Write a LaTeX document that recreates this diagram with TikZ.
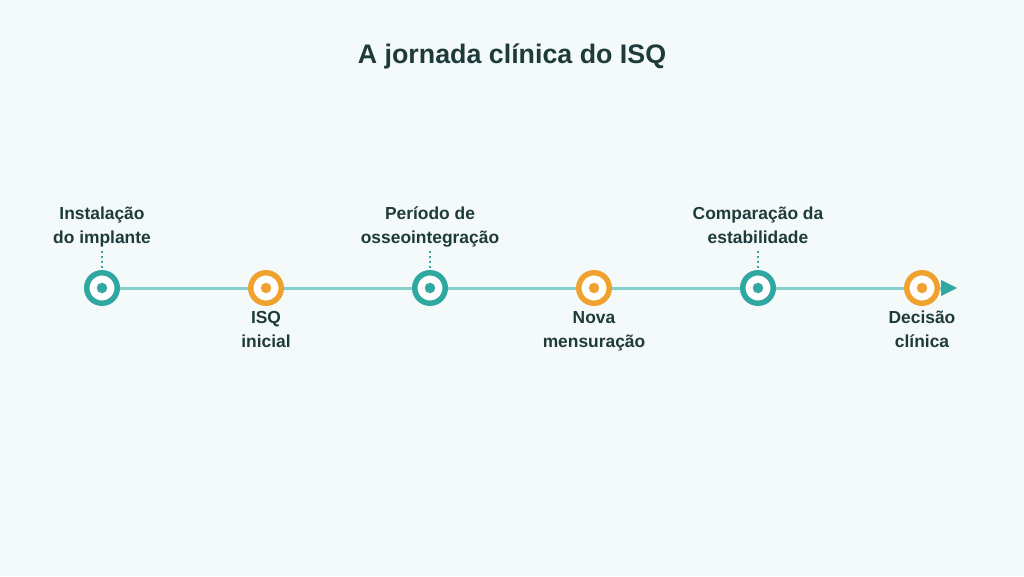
\documentclass[tikz,border=0pt]{standalone}
\usepackage{fontspec}
\setmainfont{Liberation Sans}
\definecolor{bg}{HTML}{F4F9F9}
\definecolor{teal}{HTML}{2FA8A2}
\definecolor{orng}{HTML}{F0A22E}
\definecolor{lineteal}{HTML}{86D0CC}
\definecolor{txt}{HTML}{1E3B3B}
\begin{document}
\begin{tikzpicture}[x=1pt,y=-1pt,
  ring/.style={circle,draw=#1,line width=5.5pt,fill=white,minimum size=30.5pt,inner sep=0pt},
  dot/.style={circle,fill=#1,minimum size=10.5pt,inner sep=0pt},
  lbl/.style={font=\fontsize{17.4}{24}\selectfont\bfseries,text=txt,align=center,inner sep=0pt,anchor=north},
  tick/.style={draw=teal,line width=2pt,dash pattern=on 2pt off 3pt}]
\fill[bg] (0,0) rectangle (1024,576);
\useasboundingbox (0,0) rectangle (1024,576);
\node[font=\fontsize{26.8}{30}\selectfont\bfseries,text=txt] (title) at (512,56) {A jornada clínica do ISQ};
% axis
\coordinate (start) at (102,288);
\coordinate (tipbase) at (941,288);
\draw[lineteal,line width=3pt] (start) -- (tipbase);
\fill[teal] (941,280) -- (957,288) -- (941,296) -- cycle;
% milestones
\foreach \n/\x/\c in {m1/102/teal,m2/266/orng,m3/430/teal,m4/594/orng,m5/758/teal,m6/922/orng}{
  \node[ring=\c] (\n) at (\x,288) {};
  \node[dot=\c] (\n d) at (\x,288) {};
}
% labels above
\node[lbl] (l1) at (102,207) {Instalação\\do implante};
\node[lbl] (l3) at (430,207) {Período de\\osseointegração};
\node[lbl] (l5) at (758,207) {Comparação da\\estabilidade};
% labels below
\node[lbl] (l2) at (266,311) {ISQ\\inicial};
\node[lbl] (l4) at (594,311) {Nova\\mensuração};
\node[lbl] (l6) at (922,311) {Decisão\\clínica};
% dotted ticks
\foreach \b in {m1,m3,m5}{
  \draw[tick] (\b.north |- 0,251) -- (\b.north);
}
\end{tikzpicture}
\end{document}
